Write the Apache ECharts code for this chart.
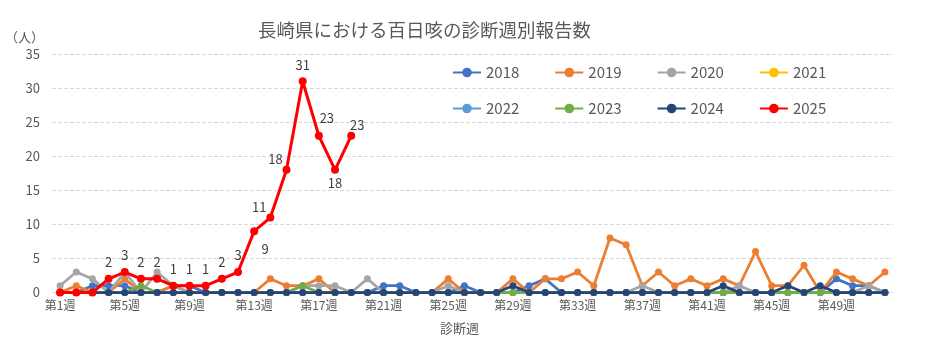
<!DOCTYPE html>
<html>
<head>
<meta charset="utf-8">
<script src="https://cdn.jsdelivr.net/npm/echarts@6/dist/echarts.min.js"></script>
<style>
  html, body { margin: 0; padding: 0; background: #fff; }
  #chart { width: 937px; height: 352px; }
</style>
</head>
<body>
<div id="chart"></div>
<script>
// 週ラベル
var weeks = [];
for (var w = 1; w <= 52; w++) {
    weeks.push('第' + w + '週');
}

var years = ['2018', '2019', '2020', '2021', '2022', '2023', '2024', '2025'];
var colors = ['#4472C4', '#ED7D31', '#A5A5A5', '#FFC000', '#5B9BD5', '#70AD47', '#264478', '#FF0000'];

var y2018 = [0, 0, 1, 1, 1, 0, 0, 1, 1, 0, 0, 0, 0, 0, 0, 0, 0, 0, 0, 0, 1, 1, 0, 0, 0, 1,
             0, 0, 0, 1, 2, 0, 0, 0, 0, 0, 0, 0, 0, 0, 0, 0, 0, 0, 0, 0, 0, 0, 2, 1, 1, 0];
var y2019 = [0, 1, 0, 0, 2, 0, 0, 1, 0, 0, 0, 0, 0, 2, 1, 1, 2, 0, 0, 0, 0, 0, 0, 0, 2, 0,
             0, 0, 2, 0, 2, 2, 3, 1, 8, 7, 1, 3, 1, 2, 1, 2, 1, 6, 1, 1, 4, 0, 3, 2, 1, 3];
var y2020 = [1, 3, 2, 0, 3, 0, 3, 1, 0, 0, 0, 0, 0, 0, 0, 1, 1, 1, 0, 2, 0, 0, 0, 0, 1, 0,
             0, 0, 0, 0, 0, 0, 0, 0, 0, 0, 1, 0, 0, 0, 0, 0, 1, 0, 0, 0, 0, 0, 0, 0, 1, 0];
var y2021 = [0, 0, 0, 0, 0, 0, 0, 0, 0, 0, 0, 0, 0, 0, 0, 0, 0, 0, 0, 0, 0, 0, 0, 0, 0, 0,
             0, 0, 0, 0, 0, 0, 0, 0, 0, 0, 0, 0, 0, 0, 0, 0, 0, 0, 0, 0, 0, 0, 0, 0, 0, 0];
var y2022 = [0, 0, 0, 0, 0, 0, 0, 0, 0, 0, 0, 0, 0, 0, 0, 0, 0, 0, 0, 0, 0, 0, 0, 0, 0, 0,
             0, 0, 0, 0, 0, 0, 0, 0, 0, 0, 0, 0, 0, 0, 0, 0, 0, 0, 0, 0, 0, 0, 0, 0, 0, 0];
var y2023 = [0, 0, 0, 0, 0, 1, 0, 0, 0, 0, 0, 0, 0, 0, 0, 1, 0, 0, 0, 0, 0, 0, 0, 0, 0, 0,
             0, 0, 0, 0, 0, 0, 0, 0, 0, 0, 0, 0, 0, 0, 0, 0, 0, 0, 0, 0, 0, 0, 0, 0, 0, 0];
var y2024 = [0, 0, 0, 0, 0, 0, 0, 0, 0, 0, 0, 0, 0, 0, 0, 0, 0, 0, 0, 0, 0, 0, 0, 0, 0, 0,
             0, 0, 1, 0, 0, 0, 0, 0, 0, 0, 0, 0, 0, 0, 0, 1, 0, 0, 0, 1, 0, 1, 0, 0, 0, 0];
var y2025 = [0, 0, 0, 2, 3, 2, 2, 1, 1, 1, 2, 3, 9, 11, 18, 31, 23, 18, 23];

var allData = [y2018, y2019, y2020, y2021, y2022, y2023, y2024, y2025];

var FONT = '"Noto Sans CJK JP", "Noto Sans", sans-serif';
var TXT = '#595959';

// 2025のラベル位置調整 (dataIndex -> [dx, dy])
var labelShift = {
    12: [11, 34],
    13: [-11, 6],
    14: [-11, 6],
    16: [8, -1],
    17: [0, 30],
    18: [6, 6]
};

var series = [];
var idx;
for (idx = 0; idx < years.length; idx++) {
    var isNow = years[idx] === '2025';
    var s = {
        name: years[idx],
        type: 'line',
        data: allData[idx],
        symbol: 'circle',
        symbolSize: isNow ? 8 : 7,
        itemStyle: {color: colors[idx]},
        lineStyle: {color: colors[idx], width: isNow ? 3 : 2.75},
        z: 2 + idx,
        animation: false
    };
    if (isNow) {
        s.label = {
            show: true,
            position: 'top',
            distance: 6,
            fontFamily: FONT,
            fontSize: 13,
            color: '#404040',
            formatter: function (p) {
                return p.value > 0 ? p.value : '';
            }
        };
        s.labelLayout = function (p) {
            var o = labelShift[p.dataIndex];
            if (!o) return {};
            return {dx: o[0], dy: o[1]};
        };
    }
    series.push(s);
}

var legendCommon = {
    orient: 'horizontal',
    itemWidth: 28,
    itemHeight: 12,
    itemGap: 35,
    selectedMode: false,
    textStyle: {fontFamily: FONT, fontSize: 15, color: TXT}
};

var option = {
    backgroundColor: '#fff',
    textStyle: {fontFamily: FONT},
    title: [
        {
            text: '長崎県における百日咳の診断週別報告数',
            left: 253,
            top: 16,
            textStyle: {fontFamily: FONT, fontSize: 18.5, fontWeight: 'normal', color: TXT}
        },
        {
            text: '（人）',
            left: 0,
            top: 26,
            textStyle: {fontFamily: FONT, fontSize: 13, fontWeight: 'normal', color: TXT}
        },
        {
            text: '診断週',
            left: 435,
            top: 317,
            textStyle: {fontFamily: FONT, fontSize: 13, fontWeight: 'normal', color: TXT}
        }
    ],
    legend: [
        Object.assign({left: 447, top: 60, data: ['2018', '2019', '2020', '2021']}, legendCommon),
        Object.assign({left: 447, top: 96, data: ['2022', '2023', '2024', '2025']}, legendCommon)
    ],
    grid: {left: 52, right: 44, top: 54, bottom: 59.5},
    xAxis: {
        type: 'category',
        data: weeks,
        boundaryGap: true,
        axisLine: {lineStyle: {color: '#d9d9d9', width: 1}},
        axisTick: {show: false},
        axisLabel: {
            interval: 3,
            margin: 7,
            fontFamily: FONT,
            fontSize: 12,
            color: TXT
        }
    },
    yAxis: {
        type: 'value',
        min: 0,
        max: 35,
        interval: 5,
        axisLine: {show: false},
        axisTick: {show: false},
        axisLabel: {margin: 12, fontFamily: FONT, fontSize: 13, color: TXT},
        splitLine: {lineStyle: {color: '#d9d9d9', type: 'dashed', width: 1}}
    },
    series: series
};

var myChart = echarts.init(document.getElementById('chart'));
myChart.setOption(option);
</script>
</body>
</html>
